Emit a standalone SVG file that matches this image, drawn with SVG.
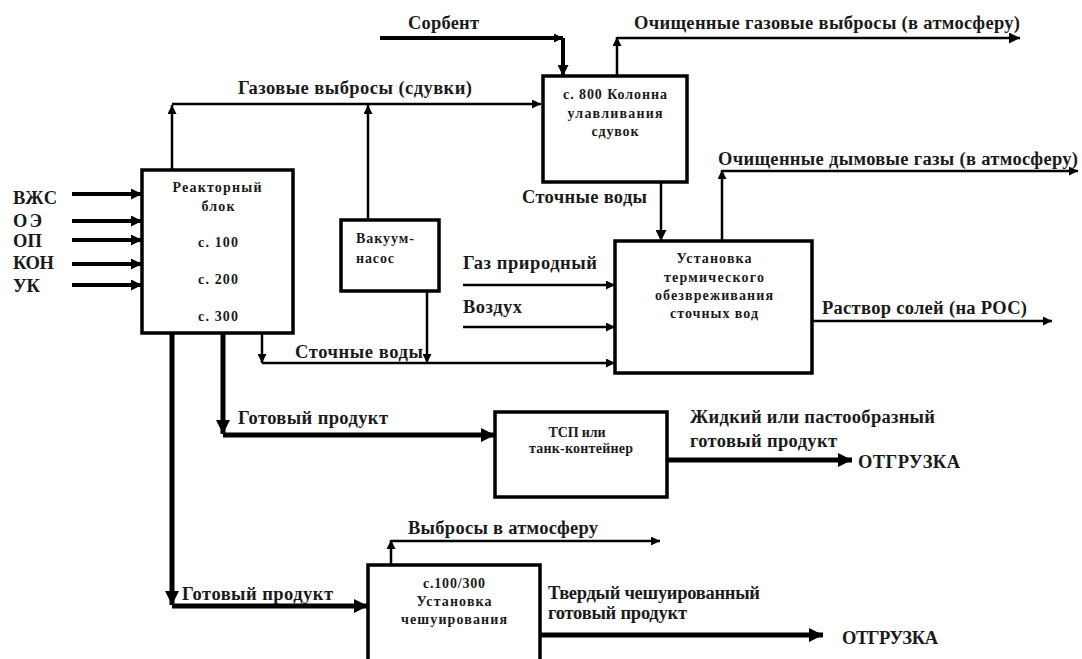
<svg xmlns="http://www.w3.org/2000/svg" width="1082" height="659" viewBox="0 0 1082 659">
<style>
.box{fill:#fff;stroke:#000;stroke-width:3.5}
.t{font-family:"Liberation Serif","DejaVu Serif","Times New Roman",Times,serif;font-weight:bold;fill:#1a1a1a}
.lb{font-size:18.5px}
.bx{font-size:14px}
.c{text-anchor:middle}
.ln{fill:none;stroke:#000;stroke-width:2.5}
.in{fill:none;stroke:#000;stroke-width:4}
.tk{fill:none;stroke:#000;stroke-width:5}
</style>
<defs>
<marker id="aS" viewBox="0 0 10 10" refX="10" refY="5" markerUnits="userSpaceOnUse" markerWidth="10" markerHeight="9" orient="auto"><path d="M0,0 L10,5 L0,10 z" fill="#000"/></marker>
<marker id="aM" viewBox="0 0 10 10" refX="10" refY="5" markerUnits="userSpaceOnUse" markerWidth="11" markerHeight="11" orient="auto"><path d="M0,0 L10,5 L0,10 z" fill="#000"/></marker>
<marker id="aL" viewBox="0 0 10 10" refX="10" refY="5" markerUnits="userSpaceOnUse" markerWidth="14" markerHeight="14" orient="auto"><path d="M0,0 L10,5 L0,10 z" fill="#000"/></marker>
</defs>
<rect width="1082" height="659" fill="#fff"/>

<g id="connectors">
<line class="in" x1="72" y1="194" x2="142" y2="194" marker-end="url(#aM)"/>
<line class="in" x1="72" y1="221" x2="142" y2="221" marker-end="url(#aM)"/>
<line class="in" x1="72" y1="240" x2="142" y2="240" marker-end="url(#aM)"/>
<line class="in" x1="72" y1="264" x2="142" y2="264" marker-end="url(#aM)"/>
<line class="in" x1="72" y1="285" x2="142" y2="285" marker-end="url(#aM)"/>
<path class="ln" d="M172,170 V105" marker-end="url(#aS)"/>
<path class="ln" d="M172,104 H541" marker-end="url(#aS)"/>
<path class="ln" d="M368,220 V105" marker-end="url(#aS)"/>
<path class="in" d="M380,38 H563" marker-end="url(#aS)"/>
<path class="in" d="M563,38 V76" marker-end="url(#aM)"/>
<path class="ln" d="M617,76 V37" marker-end="url(#aS)"/>
<path class="ln" d="M617,38 H1020" marker-end="url(#aM)"/>
<path class="ln" d="M661,182 V241" marker-end="url(#aM)"/>
<path class="ln" d="M722,241 V170" marker-end="url(#aS)"/>
<path class="ln" d="M722,171 H1078" marker-end="url(#aS)"/>
<path class="ln" d="M463,285 H615" marker-end="url(#aS)"/>
<path class="ln" d="M463,327 H615" marker-end="url(#aS)"/>
<path class="ln" d="M262,333 V363" marker-end="url(#aS)"/>
<path class="ln" d="M427,291 V363" marker-end="url(#aS)"/>
<path class="ln" d="M262,363 H615" marker-end="url(#aS)"/>
<path class="ln" d="M812,321 H1052" marker-end="url(#aS)"/>
<path class="tk" d="M223,333 V434" marker-end="url(#aL)"/>
<path class="tk" d="M223,435 H495" marker-end="url(#aL)"/>
<path class="tk" d="M668,460 H852" marker-end="url(#aL)"/>
<path class="tk" d="M172,333 V605" marker-end="url(#aL)"/>
<path class="tk" d="M172,606 H368" marker-end="url(#aL)"/>
<path class="ln" d="M391,565 V540" marker-end="url(#aS)"/>
<path class="ln" d="M391,541 H660" marker-end="url(#aS)"/>
<path class="tk" d="M540,635 H823" marker-end="url(#aL)"/>
</g>

<g id="reactor">
<rect class="box" x="142" y="170" width="151" height="163"/>
<text class="t bx c" x="217" y="192" textLength="89">Реакторный</text>
<text class="t bx c" x="218" y="211" textLength="33">блок</text>
<text class="t bx c" x="218" y="247" textLength="40">с. 100</text>
<text class="t bx c" x="218" y="284" textLength="40">с. 200</text>
<text class="t bx c" x="218" y="321" textLength="40">с. 300</text>
</g>

<g id="vacuum">
<rect class="box" x="341" y="220" width="98" height="71"/>
<text class="t bx" x="356" y="243" textLength="58">Вакуум-</text>
<text class="t bx" x="356" y="263" textLength="38">насос</text>
</g>

<g id="column">
<rect class="box" x="543" y="76" width="144" height="106"/>
<text class="t bx c" x="615" y="99" textLength="104">с. 800 Колонна</text>
<text class="t bx c" x="615" y="118" textLength="95">улавливания</text>
<text class="t bx c" x="615" y="136" textLength="47">сдувок</text>
</g>

<g id="thermal">
<rect class="box" x="615" y="241" width="197" height="132"/>
<text class="t bx c" x="714" y="263" textLength="75">Установка</text>
<text class="t bx c" x="714" y="282" textLength="100">термического</text>
<text class="t bx c" x="714" y="300" textLength="118">обезвреживания</text>
<text class="t bx c" x="714" y="318" textLength="88">сточных вод</text>
</g>

<g id="tsp">
<rect class="box" x="495" y="412" width="172" height="85"/>
<text class="t bx c" x="577" y="437" textLength="57">ТСП или</text>
<text class="t bx c" x="581" y="453" textLength="104">танк-контейнер</text>
</g>

<g id="flaking">
<rect class="box" x="368" y="565" width="172" height="110"/>
<text class="t bx c" x="454" y="588" textLength="62">с.100/300</text>
<text class="t bx c" x="454" y="606" textLength="75">Установка</text>
<text class="t bx c" x="454" y="624" textLength="106">чешуирования</text>
</g>

<g id="labels">
<text class="t lb" x="13" y="204" textLength="44">ВЖС</text>
<text class="t lb" x="13" y="227" textLength="29">ОЭ</text>
<text class="t lb" x="13" y="247" textLength="29">ОП</text>
<text class="t lb" x="13" y="269" textLength="41">КОН</text>
<text class="t lb" x="13" y="292" textLength="27">УК</text>
<text class="t lb" x="238" y="94" textLength="234">Газовые выбросы (сдувки)</text>
<text class="t lb" x="408" y="29" textLength="71">Сорбент</text>
<text class="t lb" x="634" y="29" textLength="386">Очищенные газовые выбросы (в атмосферу)</text>
<text class="t lb" x="718" y="165" textLength="360">Очищенные дымовые газы (в атмосферу)</text>
<text class="t lb" x="522" y="203" textLength="125">Сточные воды</text>
<text class="t lb" x="463" y="269" textLength="134">Газ природный</text>
<text class="t lb" x="463" y="313" textLength="59">Воздух</text>
<text class="t lb" x="822" y="314" textLength="205">Раствор солей (на РОС)</text>
<text class="t lb" x="295" y="358" textLength="128">Сточные воды</text>
<text class="t lb" x="238" y="424" textLength="150">Готовый продукт</text>
<text class="t lb" x="690" y="423" textLength="245">Жидкий или пастообразный</text>
<text class="t lb" x="690" y="447" textLength="147">готовый продукт</text>
<text class="t lb" x="858" y="468" textLength="102">ОТГРУЗКА</text>
<text class="t lb" x="408" y="534" textLength="190">Выбросы в атмосферу</text>
<text class="t lb" x="182" y="600" textLength="151">Готовый продукт</text>
<text class="t lb" x="548" y="599" textLength="212">Твердый чешуированный</text>
<text class="t lb" x="548" y="619" textLength="139">готовый продукт</text>
<text class="t lb" x="842" y="644" textLength="96">ОТГРУЗКА</text>
</g>
</svg>
